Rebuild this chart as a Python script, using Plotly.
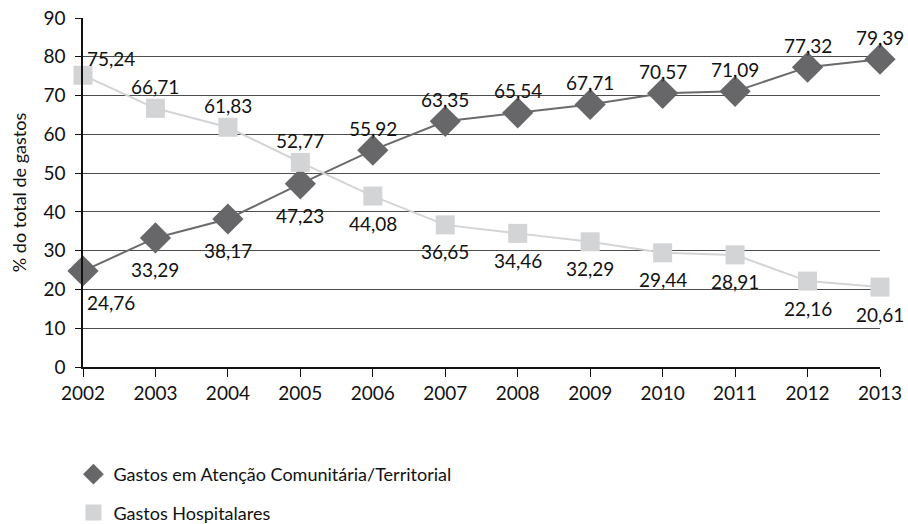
import plotly.graph_objects as go

anos = [2002, 2003, 2004, 2005, 2006, 2007, 2008, 2009, 2010, 2011, 2012, 2013]
comunitaria = [24.76, 33.29, 38.17, 47.23, 55.92, 63.35, 65.54, 67.71, 70.57, 71.09, 77.32, 79.39]
hospitalares = [75.24, 66.71, 61.83, 52.77, 44.08, 36.65, 34.46, 32.29, 29.44, 28.91, 22.16, 20.61]
y_ticks = [0, 10, 20, 30, 40, 50, 60, 70, 80, 90]

# where each value label sits relative to its marker
lado_com = ["below"] * 4 + ["above"] * 8
lado_hosp = ["above"] * 4 + ["below"] * 8

NOME_COM = "Gastos em Atenção Comunitária/Territorial"
NOME_HOSP = "Gastos Hospitalares"
COR_COM = "#67676a"
COR_HOSP = "#d3d4d6"
FONT = "Lato"


def rotulo(v):
    return f"{v:.2f}".replace(".", ",")


fig = go.Figure()
fig.add_trace(go.Scatter(
    x=anos, y=comunitaria, mode="lines+markers",
    name=NOME_COM, showlegend=False,
    line=dict(color="#6b6b6e", width=2),
    marker=dict(symbol="diamond", size=24, color=COR_COM),
    cliponaxis=False,
))
fig.add_trace(go.Scatter(
    x=anos, y=hospitalares, mode="lines+markers",
    name=NOME_HOSP, showlegend=False,
    line=dict(color=COR_HOSP, width=2),
    marker=dict(symbol="square", size=19, color=COR_HOSP),
    cliponaxis=False,
))

# legend entries: markers only, no connecting line
fig.add_trace(go.Scatter(
    x=[None], y=[None], mode="markers", name=NOME_COM, legendgroup="a",
    marker=dict(symbol="diamond", size=24, color=COR_COM),
))
fig.add_trace(go.Scatter(
    x=[None], y=[None], mode="markers", name=NOME_HOSP, legendgroup="b",
    marker=dict(symbol="square", size=19, color=COR_HOSP),
))


def rotulos(valores, lados, abaixo):
    for i, (ano, v, lado) in enumerate(zip(anos, valores, lados)):
        primeiro = i == 0
        acima = 17 if primeiro else 22
        fig.add_annotation(
            x=ano, y=v, text=rotulo(v), showarrow=False,
            font=dict(size=19, family=FONT, color="#111111"),
            xanchor="left" if primeiro else "center", yanchor="middle",
            xshift=2 if primeiro else 0,
            yshift=acima if lado == "above" else -abaixo,
        )


rotulos(comunitaria, lado_com, 32)
rotulos(hospitalares, lado_hosp, 27)

fig.update_layout(
    width=908, height=524,
    margin=dict(l=83, r=28, t=18, b=157, autoexpand=False),
    paper_bgcolor="white", plot_bgcolor="white",
    font=dict(family=FONT, color="#111111"),
    showlegend=True,
    legend=dict(
        x=-0.012, y=-0.255, xanchor="left", yanchor="top",
        font=dict(size=18, family=FONT, color="#111111"),
        tracegroupgap=12,
        itemsizing="trace",
    ),
    xaxis=dict(
        range=[2002, 2013], tickvals=anos, ticktext=[str(a) for a in anos],
        showgrid=False, showline=True, linecolor="#111111", linewidth=1.5,
        ticks="outside", ticklen=8, tickcolor="#111111", tickwidth=1.2,
        tickfont=dict(size=19, family=FONT, color="#111111"),
        tickangle=0, zeroline=False, automargin=False,
    ),
    yaxis=dict(
        range=[0, 90], tickvals=y_ticks,
        showgrid=True, gridcolor="#4d4d4d", gridwidth=1.3,
        showline=True, linecolor="#111111", linewidth=1.5,
        ticks="outside", ticklen=6, tickcolor="#111111", tickwidth=1.2,
        ticklabelstandoff=6,
        tickfont=dict(size=19, family=FONT, color="#111111"),
        title=dict(text="% do total de gastos", font=dict(size=18, family=FONT, color="#111111"), standoff=12),
        zeroline=False, automargin=False,
    ),
)

fig.write_html("out.html")
